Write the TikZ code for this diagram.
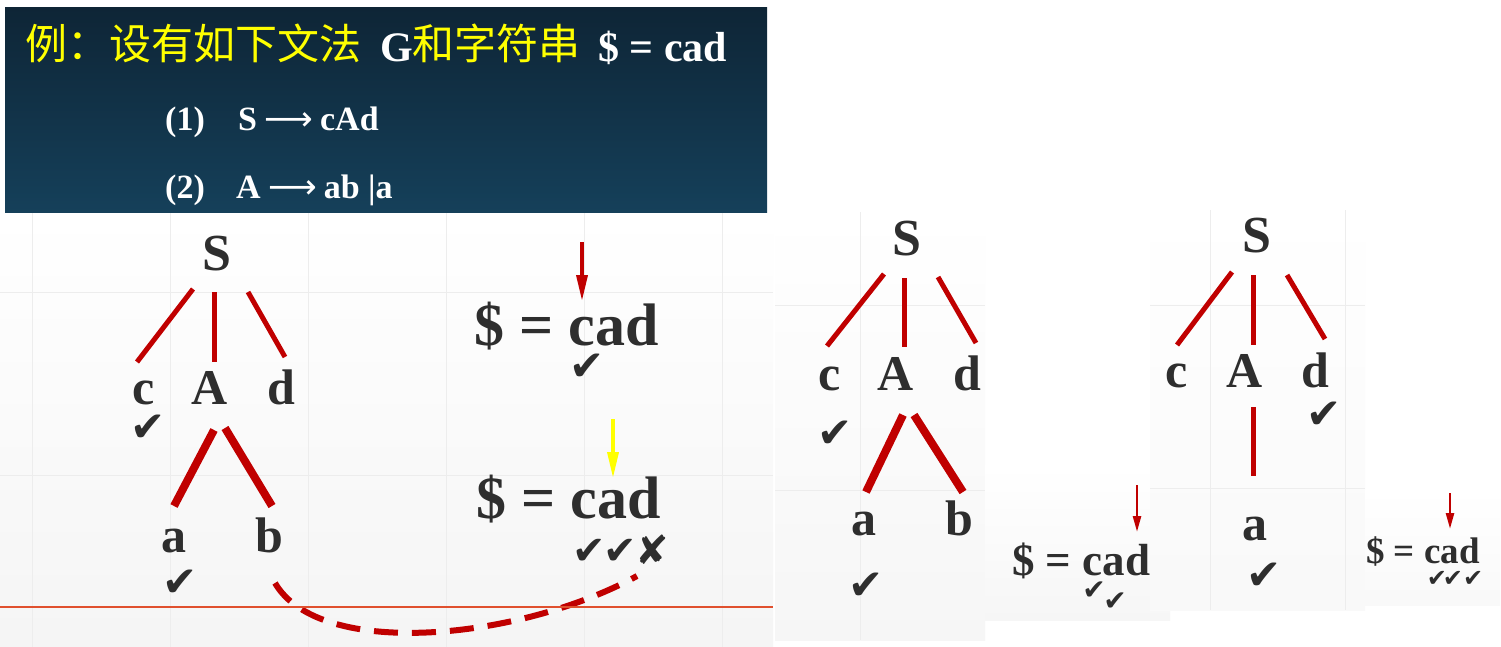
\documentclass[tikz,border=0pt]{standalone}
\usepackage{fontspec}
\setmainfont{Liberation Serif}
\newfontfamily\cjk{Noto Sans CJK SC}
\newfontfamily\symf{DejaVu Sans}
\usetikzlibrary{arrows.meta}
\definecolor{ink}{HTML}{2E2E2E}
\definecolor{edge}{HTML}{C00000}
\definecolor{navytop}{HTML}{0E2536}
\definecolor{navybot}{HTML}{15405A}
\definecolor{rule}{HTML}{E0502E}
\definecolor{ttlyel}{HTML}{FFFF00}
\definecolor{gridc}{HTML}{EDEDED}
\newcommand{\arr}{\hspace{0.22em}{\symf\mdseries ⟶}\hspace{0.2em}}
\tikzset{
  sym/.style={font=\fontsize{#1}{#1}\selectfont\bfseries, text=ink, inner sep=0pt, anchor=base},
  chk/.style={font=\symf\fontsize{#1}{#1}\selectfont, text=ink, inner sep=0pt},
  tedge/.style={draw=edge, line width=5pt},
  tedgeb/.style={draw=edge, line width=8pt},
  ptr/.style={draw=edge, line width=3.5pt, -{Triangle[width=11pt,length=26pt]}},
  ptrs/.style={draw=edge, line width=2.5pt, -{Triangle[width=8pt,length=16pt]}},
  ttl/.style={font=\fontsize{#1}{#1}\selectfont\bfseries, inner sep=0pt, anchor=base west},
  cjkt/.style={font=\cjk\fontsize{#1}{#1}\selectfont, inner sep=0pt, anchor=base west},
}
\begin{document}
\begin{tikzpicture}[x=1pt,y=-1pt]
\useasboundingbox (0,0) rectangle (1501,647);
\fill[white] (0,0) rectangle (1501,647);
% background panels
\shade[top color=white, bottom color=gray!8] (0,212) rectangle (773,647);
\shade[top color=white, bottom color=gray!7] (775,212) rectangle (985,640);
\shade[top color=white, bottom color=gray!7] (985,465) rectangle (1170,620);
\shade[top color=white, bottom color=gray!5] (1150,210) rectangle (1365,610);
\shade[top color=white, bottom color=gray!5] (1365,490) rectangle (1500,605);
\begin{scope}[draw=gridc, line width=0.8pt]
\draw (0,292) -- (773,292) (0,475) -- (773,475);
\foreach \x in {32,170,308,446,584,722} {\draw (\x,212) -- (\x,647);}
\draw (775,305) -- (985,305) (775,490) -- (985,490);
\draw (860,212) -- (860,640);
\draw (1150,305) -- (1365,305) (1150,488) -- (1365,488);
\draw (1210,210) -- (1210,610) (1345,210) -- (1345,610);
\end{scope}
% title box
\shade[top color=navytop, bottom color=navybot] (5,8) rectangle (767,212);
\node[cjkt=42, text=ttlyel] (t1) at (25,60) {例：设有如下文法};
\node[ttl=42, text=white] (t2) at (380,62) {G};
\node[cjkt=42, text=ttlyel] (t3) at (412,60) {和字符串};
\node[ttl=42, text=white] (t4) at (598,62) {\$ = cad};
\node[ttl=34, text=white] (r1n) at (165,131) {(1)};
\node[ttl=34, text=white] (r1) at (238,131) {S\arr cAd};
\node[ttl=34, text=white] (r2n) at (165,198) {(2)};
\node[ttl=34, text=white] (r2) at (236,198) {A\arr ab |a};
% ---------------- panel 1 ----------------
\node[sym=52] (S1) at (217,270) {S};
\node[sym=50] (c1) at (144,404) {c};
\node[sym=50] (A1) at (210,404) {A};
\node[sym=50] (d1) at (281,404) {d};
\node[sym=50] (a1) at (174,552) {a};
\node[sym=50] (b1) at (269,552) {b};
\coordinate (e1s) at (193,289); \coordinate (e1e) at (137,362);
\coordinate (e2s) at (214,292); \coordinate (e2e) at (214,362);
\coordinate (e3s) at (248,292); \coordinate (e3e) at (285,357);
\draw[tedge] (e1s) -- (e1e);
\draw[tedge] (e2s) -- (e2e);
\draw[tedge] (e3s) -- (e3e);
\coordinate (f1s) at (214,430); \coordinate (f1e) at (174,506);
\coordinate (f2s) at (225,428); \coordinate (f2e) at (272,506);
\draw[tedgeb] (f1s) -- (f1e);
\draw[tedgeb] (f2s) -- (f2e);
\node[chk=42] (k1) at (148,428) {✔};
\node[chk=42] (k2) at (180,583) {✔};
% strings
\node[sym=60, anchor=base west] (s1) at (474,345) {\$ = cad};
\coordinate (p1s) at (582,242); \coordinate (p1e) at (582,301);
\draw[ptr] (p1s) -- (p1e);
\node[chk=42] (k3) at (587,367) {✔};
\node[sym=60, anchor=base west] (s2) at (476,518) {\$ = cad};
\coordinate (p2s) at (613,419); \coordinate (p2e) at (613,478);
\draw[ptr, draw=ttlyel] (p2s) -- (p2e);
\node[chk=40] (k4) at (621,550) {✔\kern-3pt✔\kern-1pt✘};
% dashed backtrack curve
\coordinate (bs) at (275,583);
\coordinate (be) at (637,576);
\draw[edge, line width=6pt, dash pattern=on 24pt off 14pt]
  (bs) .. controls (320,660) and (520,640) .. (be);
\draw[rule, line width=1.2pt] (0,607) -- (773,607);
% ---------------- panel 2 ----------------
\node[sym=52] (S2) at (907,255) {S};
\node[sym=50] (c2) at (830,390) {c};
\node[sym=50] (A2) at (896,390) {A};
\node[sym=50] (d2) at (967,390) {d};
\node[sym=50] (a2) at (864,535) {a};
\node[sym=50] (b2) at (959,535) {b};
\coordinate (g1s) at (884,274); \coordinate (g1e) at (827,346);
\coordinate (g2s) at (904,278); \coordinate (g2e) at (904,347);
\coordinate (g3s) at (938,277); \coordinate (g3e) at (976,343);
\draw[tedge] (g1s) -- (g1e);
\draw[tedge] (g2s) -- (g2e);
\draw[tedge] (g3s) -- (g3e);
\coordinate (h1s) at (903,415); \coordinate (h1e) at (866,492);
\coordinate (h2s) at (914,415); \coordinate (h2e) at (963,492);
\draw[tedgeb] (h1s) -- (h1e);
\draw[tedgeb] (h2s) -- (h2e);
\node[chk=42] (k5) at (835,434) {✔};
\node[chk=42] (k6) at (866,586) {✔};
\node[sym=45, anchor=base west] (s3) at (1012,575) {\$ = cad};
\coordinate (p3s) at (1137,485); \coordinate (p3e) at (1137,532);
\draw[ptrs] (p3s) -- (p3e);
\node[chk=28] (k7) at (1094,591) {✔};
\node[chk=28] (k8) at (1115,602) {✔};
% ---------------- panel 3 ----------------
\node[sym=52] (S3) at (1257,252) {S};
\node[sym=50] (c3) at (1177,387) {c};
\node[sym=50] (A3) at (1245,387) {A};
\node[sym=50] (d3) at (1315,387) {d};
\node[sym=50] (a3) at (1255,540) {a};
\coordinate (m1s) at (1232,272); \coordinate (m1e) at (1177,345);
\coordinate (m2s) at (1253,275); \coordinate (m2e) at (1253,345);
\coordinate (m3s) at (1287,275); \coordinate (m3e) at (1325,339);
\draw[tedge] (m1s) -- (m1e);
\draw[tedge] (m2s) -- (m2e);
\draw[tedge] (m3s) -- (m3e);
\coordinate (n1s) at (1253,407); \coordinate (n1e) at (1253,476);
\draw[tedge] (n1s) -- (n1e);
\node[chk=42] (k9) at (1324,415) {✔};
\node[chk=42] (k10) at (1264,576) {✔};
\node[sym=37, anchor=base west] (s4) at (1366,563) {\$ = cad};
\coordinate (p4s) at (1450,493); \coordinate (p4e) at (1450,529);
\draw[ptrs] (p4s) -- (p4e);
\node[chk=24] (k11) at (1455,579) {✔\kern-4pt✔\kern0pt✔};
\end{tikzpicture}
\end{document}
